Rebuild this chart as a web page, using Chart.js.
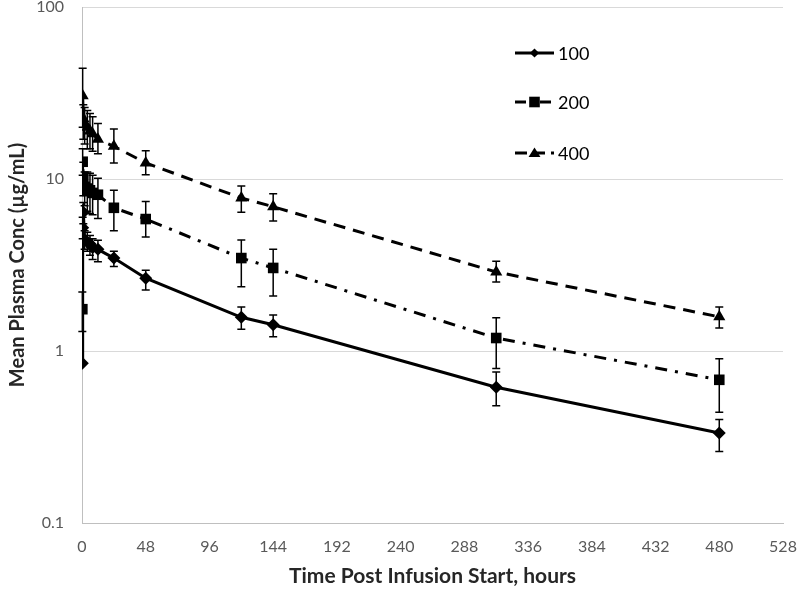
<!DOCTYPE html>
<html>
<head>
<meta charset="utf-8">
<script src="https://cdn.jsdelivr.net/npm/chart.js@4.4.1/dist/chart.umd.min.js"></script>
<style>
html,body{margin:0;padding:0;background:#fff;}
#wrap{width:800px;height:589px;position:relative;}
</style>
</head>
<body>
<div id="wrap"><canvas id="c" width="800" height="589"></canvas></div>
<script>
// ---- data ----
const times = [0.25, 0.5, 1, 2, 4, 6, 8, 12, 24, 48, 120, 144, 312, 480];
const seriesNames = ["100", "200", "400"];
const conc100 = [0.85, 5.2, 6.4, 4.4, 4.3, 4.2, 4.0, 3.9, 3.47, 2.65, 1.57, 1.42, 0.615, 0.334];
const lo100   = [null, 4.5, 5.5, 3.9, 3.8, 3.6, 3.4, 3.3, 3.1, 2.26, 1.34, 1.21, 0.48, 0.26];
const hi100   = [null, 6.0, 7.3, 5.0, 4.9, 4.7, 4.5, 4.4, 3.8, 2.95, 1.80, 1.62, 0.755, 0.40];
const conc200 = [1.75, 12.6, 10.2, 9.0, 8.8, 8.6, 8.3, 8.1, 6.8, 5.85, 3.47, 3.04, 1.19, 0.68];
const lo200   = [1.3, 10.5, 8.0, 7.0, 6.5, 6.3, 6.2, 5.9, 5.0, 4.6, 2.36, 2.09, 0.79, 0.44];
const hi200   = [2.2, 15.0, 12.5, 11.0, 11.0, 10.8, 10.5, 10.1, 8.6, 7.4, 4.42, 3.90, 1.56, 0.90];
const conc400 = [null, 30.5, 22.5, 21.0, 20.0, 19.0, 18.3, 17.0, 15.5, 12.4, 7.75, 6.9, 2.88, 1.58];
const lo400   = [null, 20.0, 17.0, 16.0, 15.0, 15.0, 14.5, 14.0, 12.4, 10.6, 6.4, 5.7, 2.52, 1.36];
const hi400   = [null, 44.0, 27.0, 26.0, 25.0, 24.0, 23.0, 21.0, 19.5, 14.6, 9.1, 8.2, 3.33, 1.80];
const yTicks = [0.1, 1, 10, 100];
const xMax = 528, xStep = 48;

function pts(vals){ return times.map((t,i)=>({x:t,y:vals[i]})).filter(p=>p.y!=null); }
function errs(lo,hi){ return times.map((t,i)=>({x:t,lo:lo[i],hi:hi[i]})).filter(p=>p.lo!=null); }

const FONT = "Lato, 'Open Sans', sans-serif";

const styles = [
  {dash:[], ps:'rectRot', r:6.5},
  {dash:[12,8,3,8], ps:'rect', r:7.5},
  {dash:[12,8], ps:'triangle', r:7}
];

const errorBars = {
  id:'errorBars',
  afterDatasetsDraw(chart){
    const ctx = chart.ctx, xs = chart.scales.x, ys = chart.scales.y;
    ctx.save();
    ctx.strokeStyle = '#000';
    ctx.lineWidth = 1.5;
    chart.data.datasets.forEach(ds=>{
      (ds.errors||[]).forEach(e=>{
        const px = xs.getPixelForValue(e.x);
        const y1 = ys.getPixelForValue(e.lo), y2 = ys.getPixelForValue(e.hi);
        ctx.beginPath();
        ctx.moveTo(px,y1); ctx.lineTo(px,y2);
        ctx.moveTo(px-4,y1); ctx.lineTo(px+4,y1);
        ctx.moveTo(px-4,y2); ctx.lineTo(px+4,y2);
        ctx.stroke();
      });
    });
    ctx.restore();
  }
};

function drawMarker(ctx, type, x, y, r){
  ctx.beginPath();
  if(type==='rectRot'){
    const s=r*Math.SQRT1_2;
    ctx.moveTo(x,y-s);ctx.lineTo(x+s,y);ctx.lineTo(x,y+s);ctx.lineTo(x-s,y);
  } else if(type==='rect'){
    const s=r*Math.SQRT1_2;
    ctx.rect(x-s,y-s,2*s,2*s);
  } else {
    const h=r*1.3, w=r*0.85;
    ctx.moveTo(x,y-h*0.6);ctx.lineTo(x+w,y+h*0.45);ctx.lineTo(x-w,y+h*0.45);
  }
  ctx.closePath(); ctx.fill();
}

const legendPlugin = {
  id:'customLegend',
  afterDraw(chart){
    const ctx = chart.ctx;
    ctx.save();
    const x0=515, x1=554, ys=[53,102,153];
    const legDash = [[], [11,6,2,6], [12,6]];
    seriesNames.forEach((name,i)=>{
      const y=ys[i];
      ctx.strokeStyle='#000'; ctx.fillStyle='#000'; ctx.lineWidth=3;
      ctx.setLineDash(legDash[i]);
      ctx.beginPath(); ctx.moveTo(x0,y); ctx.lineTo(x1,y); ctx.stroke();
      ctx.setLineDash([]);
      drawMarker(ctx, styles[i].ps, (x0+x1)/2, y, styles[i].r);
      ctx.font = "18px "+FONT;
      ctx.fillStyle='#000';
      ctx.textBaseline='middle';
      ctx.fillText(name, 558, y+1);
    });
    ctx.restore();
  }
};

const dataArr = [[conc100,lo100,hi100],[conc200,lo200,hi200],[conc400,lo400,hi400]];
const datasets = dataArr.map((d,i)=>({
  label: seriesNames[i],
  data: pts(d[0]),
  errors: errs(d[1],d[2]),
  borderColor:'#000',
  backgroundColor:'#000',
  borderWidth:3,
  borderDash: styles[i].dash,
  pointStyle: styles[i].ps,
  pointRadius: styles[i].r,
  pointBorderWidth: 0,
  pointBackgroundColor:'#000',
  tension:0
}));

function noPad(s){ s.paddingTop=0; s.paddingBottom=0; s.paddingLeft=0; s.paddingRight=0; }

new Chart(document.getElementById('c'), {
  type:'line',
  data:{datasets},
  plugins:[errorBars, legendPlugin],
  options:{
    responsive:false,
    animation:false,
    layout:{padding:{left:0,right:17,top:7,bottom:0}, autoPadding:false},
    plugins:{legend:{display:false}, tooltip:{enabled:false}},
    scales:{
      x:{
        type:'linear', min:0, max:xMax,
        ticks:{stepSize:xStep, color:'#595959', font:{family:FONT,size:16}, padding:14, maxRotation:0},
        grid:{display:false, drawTicks:false},
        border:{display:true, color:'#bfbfbf', width:1},
        title:{display:true, text:'Time Post Infusion Start, hours', color:'#262626',
               font:{family:FONT,size:21,weight:'bold'}, padding:{top:0,bottom:0}},
        afterFit(s){ s.height = 66; noPad(s); }
      },
      y:{
        type:'logarithmic', min:0.1, max:100,
        afterBuildTicks(s){ s.ticks = yTicks.map(v=>({value:v})); },
        ticks:{color:'#595959', font:{family:FONT,size:16}, padding:18,
               callback:(v)=> String(v)},
        grid:{color:'#d9d9d9', lineWidth:1, drawTicks:false},
        border:{display:true, color:'#bfbfbf', width:1},
        title:{display:true, text:'Mean Plasma Conc (µg/mL)', color:'#262626',
               font:{family:FONT,size:20,weight:'bold'}, padding:{top:6,bottom:0}},
        afterFit(s){ s.width = 82; noPad(s); }
      }
    }
  }
});
</script>
</body>
</html>
